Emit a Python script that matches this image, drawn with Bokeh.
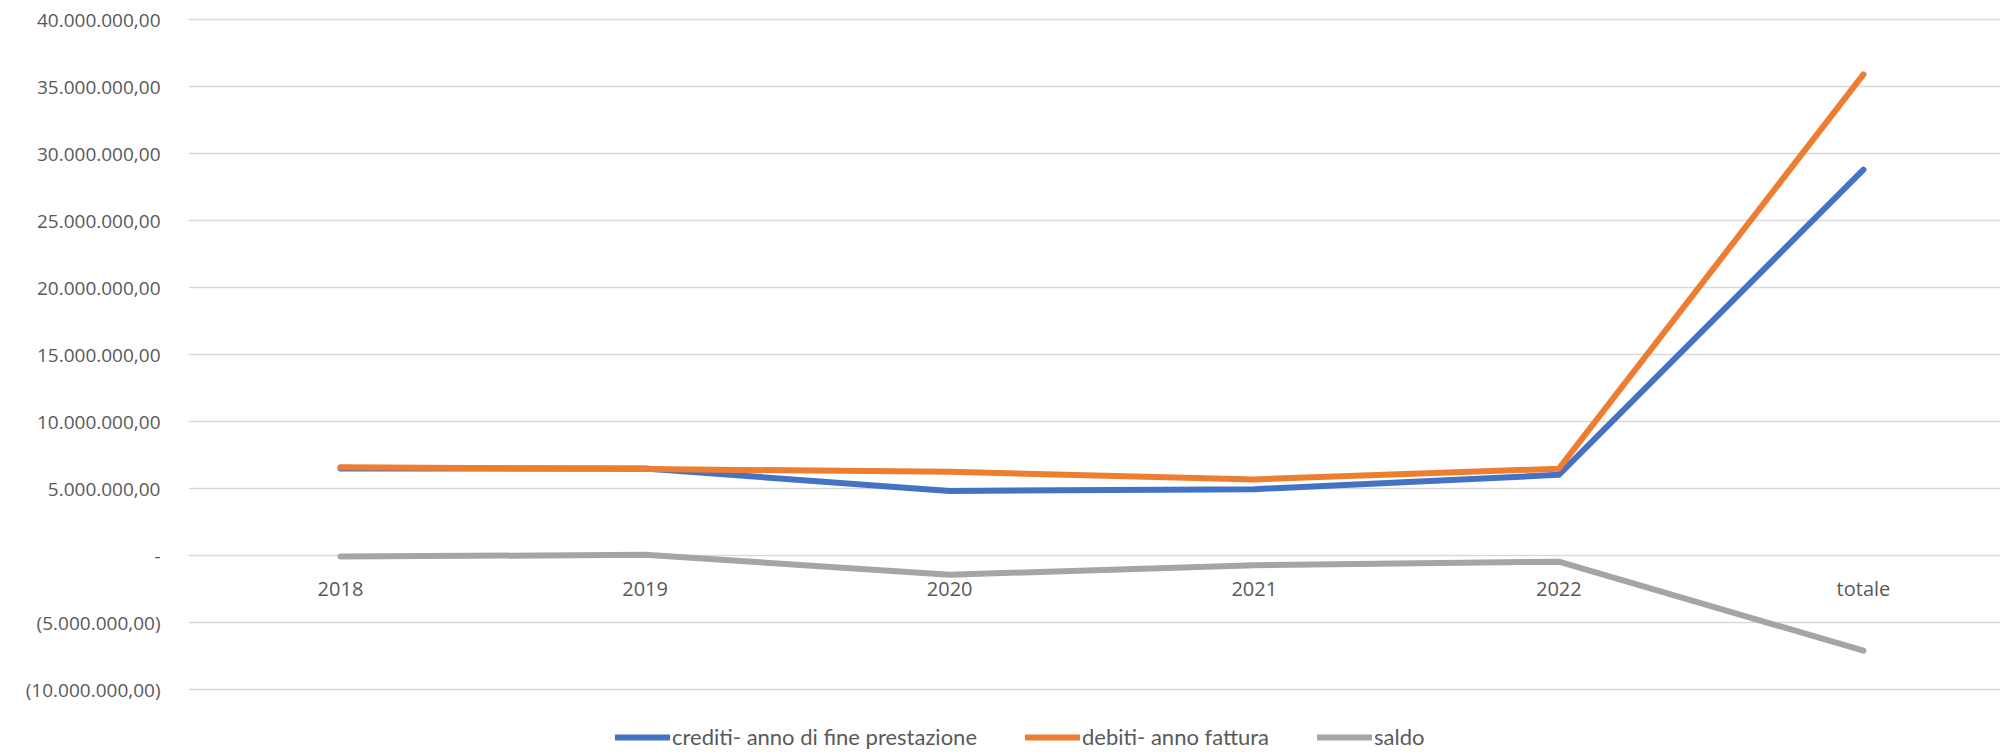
from bokeh.plotting import figure
from bokeh.models import ColumnDataSource, FixedTicker, Legend, LegendItem, Range1d
from bokeh.core.properties import value
from bokeh.embed import file_html
from bokeh.resources import INLINE

categories = ["2018", "2019", "2020", "2021", "2022", "totale"]
crediti = [6500000, 6490000, 4820000, 4950000, 6020000, 28800000]
debiti = [6580000, 6450000, 6250000, 5680000, 6480000, 35900000]
saldo = [-80000, 50000, -1430000, -730000, -460000, -7100000]

y_ticks = [-10000000, -5000000, 0, 5000000, 10000000, 15000000, 20000000,
           25000000, 30000000, 35000000, 40000000]
y_labels = ["(10.000.000,00)", "(5.000.000,00)", "-", "5.000.000,00",
            "10.000.000,00", "15.000.000,00", "20.000.000,00", "25.000.000,00",
            "30.000.000,00", "35.000.000,00", "40.000.000,00"]

series_names = ["crediti- anno di fine prestazione", "debiti- anno fattura", "saldo"]
series_colors = ["#4472C4", "#ED7D31", "#A5A5A5"]

xs = list(range(len(categories)))
src = ColumnDataSource(dict(x=xs, cat=categories, crediti=crediti, debiti=debiti,
                            saldo=saldo, zero=[0] * len(categories)))

p = figure(width=2000, height=752, output_backend="svg", toolbar_location=None,
           x_range=Range1d(-0.499, 5.45), y_range=Range1d(-14700000, 41418000),
           min_border_left=188, min_border_right=0, min_border_top=0, min_border_bottom=0)
p.outline_line_color = None
p.background_fill_color = "white"
p.border_fill_color = "white"

p.xaxis.visible = False
p.xgrid.visible = False

yax = p.yaxis[0]
yax.ticker = FixedTicker(ticks=y_ticks)
yax.major_label_overrides = {t: l for t, l in zip(y_ticks, y_labels)}
yax.axis_line_color = None
yax.major_tick_line_color = None
yax.minor_tick_line_color = None
yax.major_label_standoff = 22
yax.major_label_text_font = "Open Sans"
yax.major_label_text_font_size = "19px"
yax.major_label_text_color = "#595959"

p.ygrid.ticker = FixedTicker(ticks=y_ticks)
p.ygrid.grid_line_color = "#d9d9d9"
p.ygrid.grid_line_width = 1.5

renderers = []
for col, color in zip(["crediti", "debiti", "saldo"], series_colors):
    r = p.line("x", col, source=src, line_color=color, line_width=6,
               line_cap="round", line_join="round")
    renderers.append(r)

p.text(x="x", y="zero", text="cat", source=src, text_align="center",
       text_baseline="middle", y_offset=33, text_font=value("Open Sans"),
       text_font_size="20px", text_color="#595959")

legend = Legend(items=[LegendItem(label=n, renderers=[r]) for n, r in zip(series_names, renderers)],
                orientation="horizontal", location=(427, 2))
legend.background_fill_alpha = 0
legend.border_line_color = None
legend.padding = 0
legend.margin = 0
legend.spacing = 48
legend.glyph_width = 55
legend.glyph_height = 20
legend.label_standoff = 2
legend.label_text_font = "Lato"
legend.label_text_font_size = "22px"
legend.label_text_color = "#595959"
p.add_layout(legend, "center")

open("out.html", "w").write(file_html(p, INLINE))
